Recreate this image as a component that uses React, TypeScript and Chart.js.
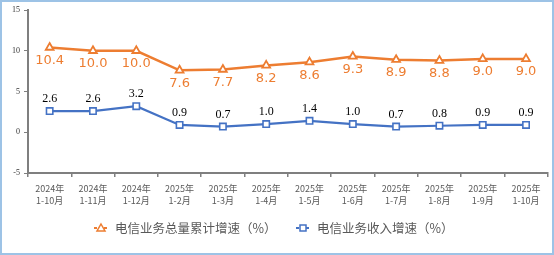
import React, { useEffect, useRef } from "react";
import { Chart, registerables } from "chart.js";

Chart.register(...registerables);

const categories: string[][] = [
  ["2024年", "1-10月"], ["2024年", "1-11月"], ["2024年", "1-12月"],
  ["2025年", "1-2月"], ["2025年", "1-3月"], ["2025年", "1-4月"],
  ["2025年", "1-5月"], ["2025年", "1-6月"], ["2025年", "1-7月"],
  ["2025年", "1-8月"], ["2025年", "1-9月"], ["2025年", "1-10月"],
];
const volumeGrowth = [10.4, 10.0, 10.0, 7.6, 7.7, 8.2, 8.6, 9.3, 8.9, 8.8, 9.0, 9.0];
const revenueGrowth = [2.6, 2.6, 3.2, 0.9, 0.7, 1.0, 1.4, 1.0, 0.7, 0.8, 0.9, 0.9];
const seriesNames = ["电信业务总量累计增速（%）", "电信业务收入增速（%）"];
const yTicks = [-5, 0, 5, 10, 15];

const ORANGE = "#ED7D31";
const BLUE = "#4472C4";

const labelPlugin = {
  id: "labelsAndLegend",
  afterDatasetsDraw(chart: any) {
    const ctx = chart.ctx;
    ctx.save();
    chart.data.datasets.forEach((ds: any, i: number) => {
      const meta = chart.getDatasetMeta(i);
      meta.data.forEach((pt: any, j: number) => {
        const v = ds.data[j].toFixed(1);
        ctx.textAlign = "center";
        ctx.textBaseline = "middle";
        if (i === 0) {
          ctx.font = "13px 'DejaVu Sans'";
          ctx.fillStyle = ORANGE;
          ctx.fillText(v, pt.x, pt.y + 13);
        } else {
          ctx.font = "12px 'Liberation Serif'";
          ctx.fillStyle = "#000";
          ctx.fillText(v, pt.x, pt.y - 12);
        }
      });
    });
    // legend
    const ly = 228;
    const items = [
      { x: 94, color: ORANGE, style: "triangle", text: seriesNames[0] },
      { x: 296, color: BLUE, style: "rect", text: seriesNames[1] },
    ];
    items.forEach((it) => {
      ctx.strokeStyle = it.color;
      ctx.lineWidth = 2;
      ctx.setLineDash([3, 2]);
      ctx.beginPath();
      ctx.moveTo(it.x, ly);
      ctx.lineTo(it.x + 14, ly);
      ctx.stroke();
      ctx.setLineDash([]);
      const cx = it.x + 7;
      ctx.fillStyle = "#fff";
      ctx.lineWidth = 1.5;
      ctx.beginPath();
      if (it.style === "triangle") {
        ctx.moveTo(cx, ly - 4);
        ctx.lineTo(cx + 4, ly + 3);
        ctx.lineTo(cx - 4, ly + 3);
        ctx.closePath();
      } else {
        ctx.rect(cx - 3, ly - 3, 6, 6);
      }
      ctx.fill();
      ctx.stroke();
      ctx.font = "12.5px 'Noto Sans CJK SC'";
      ctx.fillStyle = "#595959";
      ctx.textAlign = "left";
      ctx.textBaseline = "middle";
      ctx.fillText(it.text, it.x + 21, ly);
    });
    // outer border
    ctx.strokeStyle = "#9DC3E6";
    ctx.lineWidth = 2;
    ctx.strokeRect(1, 1, chart.width - 2, chart.height - 2);
    ctx.restore();
  },
};

export default function App() {
  const ref = useRef<HTMLCanvasElement>(null);
  useEffect(() => {
    document.body.style.margin = "0";
    const chart = new Chart(ref.current!, {
      type: "line",
      data: {
        labels: categories,
        datasets: [
          {
            label: seriesNames[0],
            data: volumeGrowth,
            borderColor: ORANGE,
            borderWidth: 2.5,
            pointStyle: "triangle",
            pointRadius: 4.5,
            pointBorderWidth: 1.8,
            pointBackgroundColor: "#fff",
            pointBorderColor: ORANGE,
            tension: 0,
          },
          {
            label: seriesNames[1],
            data: revenueGrowth,
            borderColor: BLUE,
            borderWidth: 2.2,
            pointStyle: "rect",
            pointRadius: 4.5,
            pointBorderWidth: 1.6,
            pointBackgroundColor: "#fff",
            pointBorderColor: BLUE,
            tension: 0,
          },
        ],
      },
      options: {
        animation: false,
        responsive: false,
        layout: { padding: { top: 10, right: 6, left: 0, bottom: 0 } },
        plugins: { legend: { display: false }, tooltip: { enabled: false } },
        scales: {
          x: {
            offset: true,
            grid: { display: true, drawOnChartArea: false, drawTicks: true, tickLength: 4, offset: true, color: "#7F7F7F", lineWidth: 1.5 },
            border: { color: "#7F7F7F", width: 2 },
            ticks: { color: "#595959", font: { size: 9, family: "'Noto Sans CJK SC'", lineHeight: 1.3 }, padding: 6, maxRotation: 0, autoSkip: false },
            afterFit: (s: any) => { s.height = 82; },
          },
          y: {
            min: -5,
            max: 15,
            afterBuildTicks: (s: any) => { s.ticks = yTicks.map((v) => ({ value: v })); },
            grid: { display: true, drawOnChartArea: false, drawTicks: true, tickLength: 4, color: "#7F7F7F" },
            border: { color: "#7F7F7F", width: 2 },
            ticks: { color: "#333", font: { size: 8, family: "'Liberation Serif'" }, padding: 4 },
            afterFit: (s: any) => { s.width = 28; },
          },
        },
      },
      plugins: [labelPlugin],
    });
    return () => chart.destroy();
  }, []);
  return <canvas ref={ref} width={554} height={255} style={{ display: "block" }} />;
}
